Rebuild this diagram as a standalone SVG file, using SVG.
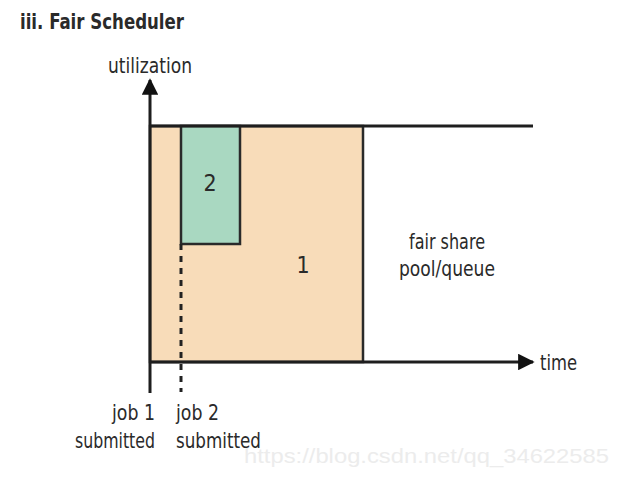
<svg xmlns="http://www.w3.org/2000/svg" width="641" height="486" viewBox="0 0 641 486">
  <style>
    .t { font-family: "Liberation Sans Narrow", "DejaVu Sans Condensed", "Liberation Sans", sans-serif; fill: #2a2a2a; font-size: 21px; }
    .title { font-weight: bold; font-size: 22px; }
    .num { font-size: 23px; }
    .axis { stroke: #1e1e1e; stroke-width: 3; fill: none; }
    .edge { stroke: #2a2a2a; stroke-width: 2.5; }
    .wm { font-family: "Liberation Sans", Arial, sans-serif; font-size: 21px; fill: #ececec; }
  </style>
  <defs>
    <marker id="arrow" viewBox="0 0 10 10" refX="9" refY="5" markerWidth="5.5" markerHeight="5.5" markerUnits="strokeWidth" orient="auto">
      <path d="M0,0 L10,5 L0,10 Z" fill="#111"/>
    </marker>
  </defs>
  <rect width="641" height="486" fill="#fff"/>

  <text class="t title" x="20" y="29" textLength="164" lengthAdjust="spacingAndGlyphs">iii. Fair Scheduler</text>

  <g id="job1">
    <rect x="150" y="126" width="213" height="236" fill="#f8dcb9" class="edge"/>
    <text class="t num" x="303" y="273" text-anchor="middle">1</text>
  </g>
  <g id="job2">
    <rect x="181" y="126" width="59" height="118" fill="#a9d8c1" class="edge"/>
    <text class="t num" x="210" y="191" text-anchor="middle">2</text>
  </g>
  <g id="pool">
    <text class="t" x="447" y="249" text-anchor="middle" textLength="76" lengthAdjust="spacingAndGlyphs">fair share</text>
    <text class="t" x="447" y="276" text-anchor="middle" textLength="96" lengthAdjust="spacingAndGlyphs">pool/queue</text>
  </g>

  <g id="connectors">
    <line class="axis" x1="150" y1="126" x2="533" y2="126"/>
    <line class="axis" x1="150" y1="393" x2="150" y2="80" marker-end="url(#arrow)"/>
    <line class="axis" x1="150" y1="362" x2="533" y2="362" marker-end="url(#arrow)"/>
    <line x1="181" y1="244" x2="181" y2="392" stroke="#222" stroke-width="3" stroke-dasharray="6 6"/>
  </g>

  <g id="labels">
    <text class="t" x="150" y="73" text-anchor="middle" textLength="84" lengthAdjust="spacingAndGlyphs">utilization</text>
    <text class="t" x="540" y="370" textLength="37" lengthAdjust="spacingAndGlyphs">time</text>
    <text class="t" x="155" y="420" text-anchor="end" textLength="43" lengthAdjust="spacingAndGlyphs">job 1</text>
    <text class="t" x="155" y="448" text-anchor="end" textLength="80" lengthAdjust="spacingAndGlyphs">submitted</text>
    <text class="t" x="176" y="420" textLength="43" lengthAdjust="spacingAndGlyphs">job 2</text>
    <text class="t" x="176" y="448" textLength="85" lengthAdjust="spacingAndGlyphs">submitted</text>
  </g>

  <text class="wm" x="244" y="463" textLength="365" lengthAdjust="spacingAndGlyphs">https://blog.csdn.net/qq_34622585</text>
</svg>
